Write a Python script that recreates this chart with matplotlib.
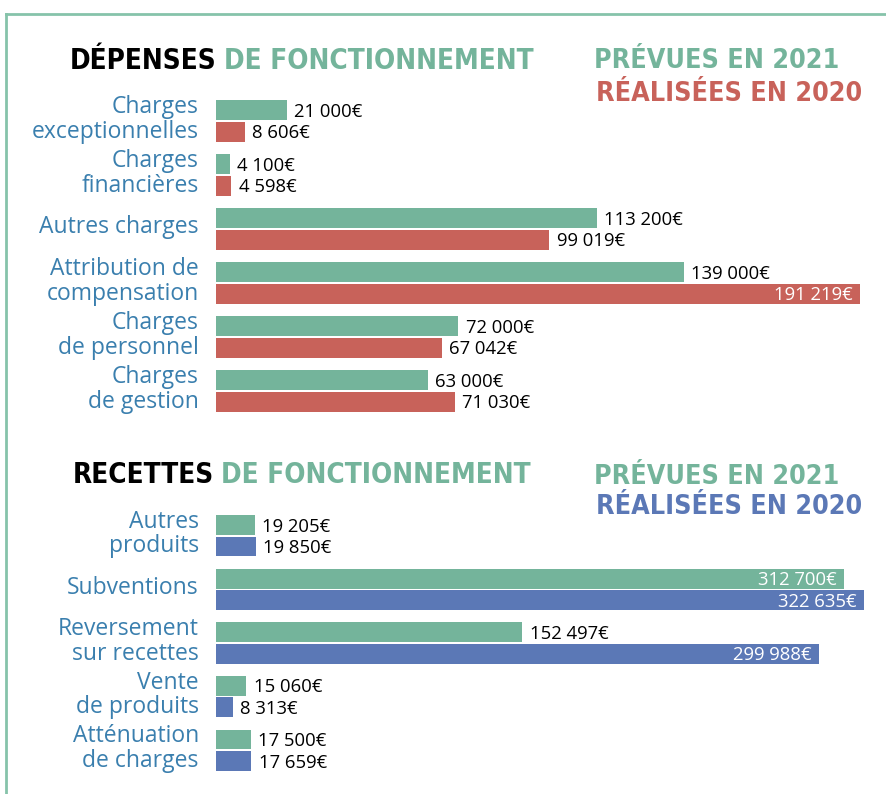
import numpy as np
from matplotlib import pyplot as plt
from matplotlib.lines import Line2D
from matplotlib import font_manager as fm

# --- data ---
dep_labels = ['Charges\nexceptionnelles', 'Charges\nfinancières', 'Autres charges',
              'Attribution de\ncompensation', 'Charges\nde personnel', 'Charges\nde gestion']
dep_prevues = [21000, 4100, 113200, 139000, 72000, 63000]
dep_realisees = [8606, 4598, 99019, 191219, 67042, 71030]

rec_labels = ['Autres\nproduits', 'Subventions', 'Reversement\nsur recettes',
              'Vente\nde produits', 'Atténuation\nde charges']
rec_prevues = [19205, 312700, 152497, 15060, 17500]
rec_realisees = [19850, 322635, 299988, 8313, 17659]

GREEN = '#74b49b'
RED = '#c8625a'
BLUE = '#5b78b6'
LABEL = '#3a7fae'
BORDER = '#86c3aa'

plt.rcParams['font.family'] = ['Open Sans', 'DejaVu Sans']

W, H = 887, 794
fig = plt.figure(figsize=(W / 100, H / 100), dpi=100)


def fmt(v):
    return '{:,}'.format(v).replace(',', ' ') + '€'


def px_axes(x0, y0, x1, y1):
    # pixel box (top-left origin) -> figure axes
    return fig.add_axes([x0 / W, 1 - y1 / H, (x1 - x0) / W, (y1 - y0) / H])


def panel(ax, labels, prev, real, col2, xmax, inside):
    n = len(labels)
    y = np.arange(n)
    h = 0.37
    ax.barh(y - 0.2, prev, height=h, color=GREEN)
    ax.barh(y + 0.2, real, height=h, color=col2)
    ax.set_ylim(n - 0.5, -0.5)
    ax.set_xlim(0, xmax)
    ax.axis('off')
    off = xmax * 0.011
    for i in range(n):
        for yy, v in ((y[i] - 0.2, prev[i]), (y[i] + 0.2, real[i])):
            if v in inside:
                ax.text(v - off, yy + 0.03, fmt(v), ha='right', va='center',
                        color='white', fontsize=13.3)
            else:
                ax.text(v + off, yy + 0.03, fmt(v), ha='left', va='center',
                        color='black', fontsize=13.3)
        ax.text(-xmax * 0.026, y[i] - 0.03, labels[i], ha='right', va='center',
                color=LABEL, fontsize=16.5, linespacing=1.02)


ax1 = px_axes(216, 94, 876, 418)
panel(ax1, dep_labels, dep_prevues, dep_realisees, RED, 196000, [191219])

ax2 = px_axes(216, 509, 876, 777)
panel(ax2, rec_labels, rec_prevues, rec_realisees, BLUE, 328600,
      [312700, 322635, 299988])

# --- titles ---
renderer = fig.canvas.get_renderer()
tprops = fm.FontProperties(family='DejaVu Sans', weight='bold',
                           stretch='condensed', size=20)
lprops = fm.FontProperties(family='DejaVu Sans', weight='bold',
                           stretch='condensed', size=19.3)


def title(x, y, first, second):
    t = fig.text(x / W, 1 - y / H, first, color='black', va='center',
                 fontproperties=tprops)
    bb = t.get_window_extent(renderer)
    fig.text((bb.x1 + 7) / W, 1 - y / H, second, color=GREEN, va='center',
             fontproperties=tprops)


title(70, 61, 'DÉPENSES', 'DE FONCTIONNEMENT')
title(73, 475, 'RECETTES', 'DE FONCTIONNEMENT')

fig.text(594 / W, 1 - 61 / H, 'PRÉVUES EN 2021', color=GREEN, va='center', fontproperties=lprops)
fig.text(596 / W, 1 - 94 / H, 'RÉALISÉES EN 2020', color=RED, va='center', fontproperties=lprops)
fig.text(594 / W, 1 - 477 / H, 'PRÉVUES EN 2021', color=GREEN, va='center', fontproperties=lprops)
fig.text(596 / W, 1 - 507 / H, 'RÉALISÉES EN 2020', color=BLUE, va='center', fontproperties=lprops)

# --- frame lines ---
fig.add_artist(Line2D([6 / W, 1], [1 - 14 / H, 1 - 14 / H], color=BORDER, lw=2))
fig.add_artist(Line2D([6 / W, 6 / W], [1 - 14 / H, 0], color=BORDER, lw=2))

fig.savefig('out.png', dpi=100)
